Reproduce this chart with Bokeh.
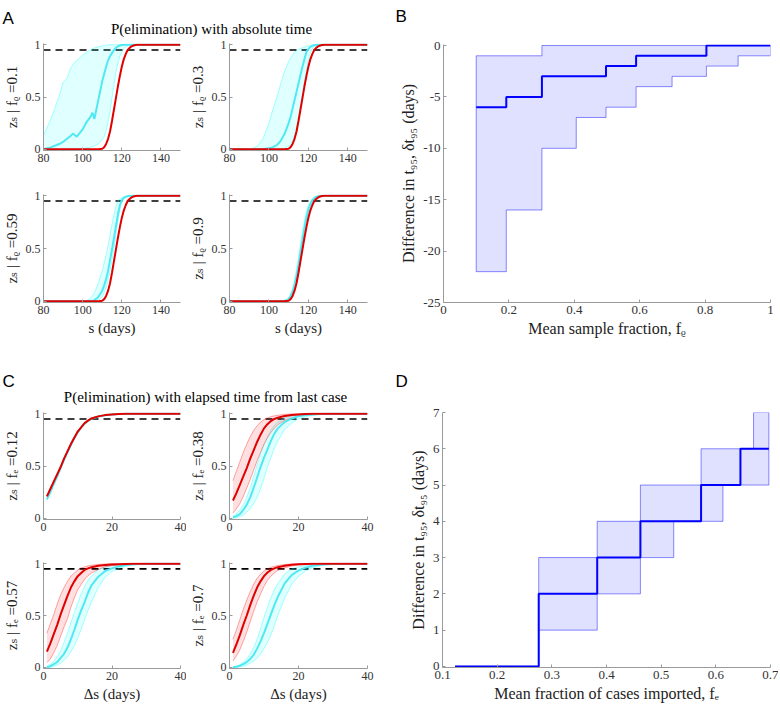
from bokeh.plotting import figure
from bokeh.layouts import column, row
from bokeh.models import Range1d, FixedTicker, CustomJSTickFormatter
from bokeh.core.properties import value
from bokeh.embed import file_html
from bokeh.resources import INLINE

SERIF = "Liberation Serif, DejaVu Serif, serif"
SANS = "Liberation Sans, Arial, sans-serif"

# ---------------- Panel A data: P(elimination) vs absolute time ----------------
s_days = [80, 84, 88, 90, 92, 94, 95, 97, 100, 102, 104, 105, 106, 108, 110, 111, 112, 113,
          114, 115, 116, 117, 118, 119, 120, 121, 122, 123, 124, 125, 126, 127, 128, 130, 140, 150]
a_true = [0, 0, 0, 0, 0, 0, 0, 0, 0, 0, 0, 0, 0, 0, 0.005, 0.02, 0.05, 0.10,
          0.17, 0.27, 0.38, 0.49, 0.60, 0.70, 0.79, 0.86, 0.91, 0.95, 0.97, 0.985, 0.993, 0.998, 1, 1, 1, 1]
a_frac = ["0.1", "0.3", "0.59", "0.9"]
a1_mean = [0, 0.02, 0.05, 0.07, 0.10, 0.13, 0.15, 0.12, 0.19, 0.26, 0.31, 0.35, 0.29, 0.47, 0.65, 0.72, 0.79, 0.85,
           0.89, 0.92, 0.95, 0.97, 0.985, 0.993, 0.998, 1, 1, 1, 1, 1, 1, 1, 1, 1, 1, 1]
a1_hi = [0.13, 0.30, 0.51, 0.64, 0.68, 0.78, 0.81, 0.85, 0.90, 0.93, 0.95, 0.96, 0.97, 0.98, 0.99, 0.993, 0.996, 0.998,
         1, 1, 1, 1, 1, 1, 1, 1, 1, 1, 1, 1, 1, 1, 1, 1, 1, 1]
a1_lo = [0, 0, 0, 0, 0, 0, 0, 0, 0, 0.01, 0.02, 0.025, 0.03, 0.05, 0.09, 0.12, 0.18, 0.26,
         0.36, 0.49, 0.61, 0.74, 0.82, 0.89, 0.93, 0.96, 0.98, 0.99, 1, 1, 1, 1, 1, 1, 1, 1]
a2_mean = [0, 0, 0, 0, 0, 0, 0, 0, 0.01, 0.02, 0.04, 0.06, 0.08, 0.15, 0.25, 0.31, 0.39, 0.47,
           0.55, 0.63, 0.71, 0.79, 0.86, 0.93, 0.96, 0.98, 0.99, 0.996, 1, 1, 1, 1, 1, 1, 1, 1]
a2_hi = [0, 0, 0, 0, 0.01, 0.03, 0.05, 0.10, 0.25, 0.38, 0.50, 0.56, 0.63, 0.75, 0.84, 0.87, 0.90, 0.93,
         0.945, 0.955, 0.965, 0.97, 0.978, 0.984, 0.99, 0.994, 0.997, 1, 1, 1, 1, 1, 1, 1, 1, 1]
a2_lo = [0, 0, 0, 0, 0, 0, 0, 0, 0, 0, 0, 0, 0, 0.01, 0.03, 0.05, 0.08, 0.13,
         0.20, 0.29, 0.40, 0.52, 0.65, 0.76, 0.85, 0.92, 0.96, 0.98, 0.99, 0.996, 1, 1, 1, 1, 1, 1]
a3_mean = [0, 0, 0, 0, 0, 0, 0, 0, 0, 0, 0, 0.003, 0.01, 0.04, 0.10, 0.15, 0.21, 0.29,
           0.39, 0.49, 0.60, 0.71, 0.82, 0.91, 0.96, 0.98, 0.99, 0.996, 1, 1, 1, 1, 1, 1, 1, 1]
a3_hi = [0, 0, 0, 0, 0, 0, 0, 0, 0, 0.005, 0.03, 0.05, 0.08, 0.17, 0.29, 0.36, 0.44, 0.53,
         0.63, 0.73, 0.82, 0.90, 0.95, 0.97, 0.98, 0.988, 0.994, 0.998, 1, 1, 1, 1, 1, 1, 1, 1]
a3_lo = [0, 0, 0, 0, 0, 0, 0, 0, 0, 0, 0, 0, 0, 0.005, 0.04, 0.08, 0.13, 0.20,
         0.29, 0.39, 0.50, 0.63, 0.76, 0.87, 0.94, 0.97, 0.985, 0.993, 0.997, 1, 1, 1, 1, 1, 1, 1]
a4_mean = [0, 0, 0, 0, 0, 0, 0, 0, 0, 0, 0, 0, 0, 0.003, 0.02, 0.05, 0.09, 0.15,
           0.24, 0.34, 0.46, 0.58, 0.69, 0.79, 0.87, 0.92, 0.955, 0.975, 0.988, 0.995, 0.998, 1, 1, 1, 1, 1]
a4_hi = [0, 0, 0, 0, 0, 0, 0, 0, 0, 0, 0, 0, 0, 0.005, 0.03, 0.07, 0.12, 0.20,
         0.30, 0.42, 0.54, 0.66, 0.76, 0.85, 0.91, 0.95, 0.975, 0.988, 0.995, 0.998, 1, 1, 1, 1, 1, 1]
a4_lo = [0, 0, 0, 0, 0, 0, 0, 0, 0, 0, 0, 0, 0, 0.001, 0.01, 0.03, 0.06, 0.11,
         0.18, 0.27, 0.38, 0.50, 0.62, 0.73, 0.82, 0.89, 0.935, 0.963, 0.98, 0.99, 0.996, 1, 1, 1, 1, 1]

# ---------------- Panel C data: P(elimination) vs elapsed time ----------------
ds_days = [1, 2, 3, 4, 5, 6, 7, 8, 9, 10, 11, 12, 13, 14, 16, 18, 20, 22, 24, 26, 28, 30, 35, 40]
c_frac = ["0.12", "0.38", "0.57", "0.7"]
c1_red = [0.21, 0.28, 0.35, 0.42, 0.49, 0.57, 0.64, 0.71, 0.77, 0.83, 0.87, 0.91, 0.935, 0.955, 0.975, 0.987, 0.994, 0.997, 1, 1, 1, 1, 1, 1]
c1_red_lo = [0.20, 0.27, 0.34, 0.41, 0.48, 0.56, 0.63, 0.70, 0.76, 0.82, 0.865, 0.905, 0.93, 0.95, 0.972, 0.985, 0.993, 0.997, 1, 1, 1, 1, 1, 1]
c1_red_hi = [0.22, 0.29, 0.36, 0.43, 0.50, 0.58, 0.65, 0.72, 0.78, 0.84, 0.875, 0.915, 0.94, 0.96, 0.978, 0.989, 0.995, 0.998, 1, 1, 1, 1, 1, 1]
c1_cyan = [0.18, 0.25, 0.33, 0.40, 0.48, 0.56, 0.63, 0.70, 0.77, 0.82, 0.87, 0.905, 0.932, 0.952, 0.974, 0.986, 0.993, 0.997, 1, 1, 1, 1, 1, 1]
c1_cyan_lo = [0.17, 0.24, 0.32, 0.39, 0.47, 0.55, 0.62, 0.69, 0.76, 0.81, 0.86, 0.90, 0.928, 0.948, 0.971, 0.984, 0.992, 0.996, 1, 1, 1, 1, 1, 1]
c1_cyan_hi = [0.19, 0.26, 0.34, 0.41, 0.49, 0.57, 0.64, 0.71, 0.78, 0.83, 0.875, 0.91, 0.936, 0.956, 0.977, 0.988, 0.994, 0.998, 1, 1, 1, 1, 1, 1]
c2_red = [0.17, 0.24, 0.32, 0.40, 0.48, 0.57, 0.65, 0.73, 0.80, 0.86, 0.90, 0.93, 0.95, 0.963, 0.978, 0.988, 0.994, 0.997, 1, 1, 1, 1, 1, 1]
c2_red_hi = [0.36, 0.45, 0.54, 0.63, 0.71, 0.78, 0.84, 0.885, 0.92, 0.945, 0.96, 0.972, 0.98, 0.986, 0.994, 0.998, 1, 1, 1, 1, 1, 1, 1, 1]
c2_red_lo = [0.05, 0.09, 0.14, 0.21, 0.29, 0.37, 0.46, 0.55, 0.63, 0.71, 0.77, 0.82, 0.86, 0.895, 0.935, 0.96, 0.977, 0.987, 0.993, 0.997, 1, 1, 1, 1]
c2_cyan = [0.01, 0.02, 0.04, 0.08, 0.13, 0.20, 0.29, 0.39, 0.49, 0.58, 0.66, 0.74, 0.81, 0.86, 0.92, 0.955, 0.975, 0.988, 0.994, 0.997, 1, 1, 1, 1]
c2_cyan_hi = [0.02, 0.04, 0.08, 0.13, 0.20, 0.29, 0.40, 0.51, 0.61, 0.70, 0.78, 0.84, 0.89, 0.92, 0.96, 0.98, 0.99, 0.996, 1, 1, 1, 1, 1, 1]
c2_cyan_lo = [0, 0.005, 0.015, 0.03, 0.06, 0.09, 0.14, 0.20, 0.28, 0.38, 0.49, 0.58, 0.67, 0.74, 0.85, 0.91, 0.95, 0.972, 0.985, 0.992, 0.996, 1, 1, 1]
c3_red = [0.15, 0.23, 0.32, 0.41, 0.51, 0.60, 0.69, 0.77, 0.83, 0.88, 0.91, 0.94, 0.955, 0.966, 0.98, 0.988, 0.993, 0.996, 0.998, 1, 1, 1, 1, 1]
c3_red_hi = [0.33, 0.42, 0.51, 0.61, 0.70, 0.77, 0.83, 0.88, 0.91, 0.94, 0.96, 0.97, 0.98, 0.985, 0.993, 0.997, 1, 1, 1, 1, 1, 1, 1, 1]
c3_red_lo = [0.045, 0.08, 0.14, 0.21, 0.30, 0.39, 0.47, 0.58, 0.67, 0.75, 0.80, 0.85, 0.885, 0.91, 0.945, 0.97, 0.982, 0.99, 0.995, 0.998, 1, 1, 1, 1]
c3_cyan = [0, 0.01, 0.03, 0.05, 0.09, 0.13, 0.19, 0.27, 0.36, 0.46, 0.55, 0.63, 0.72, 0.79, 0.875, 0.93, 0.955, 0.975, 0.988, 0.994, 0.997, 1, 1, 1]
c3_cyan_hi = [0.01, 0.03, 0.06, 0.10, 0.16, 0.24, 0.33, 0.43, 0.53, 0.62, 0.71, 0.78, 0.84, 0.88, 0.94, 0.97, 0.985, 0.993, 0.997, 1, 1, 1, 1, 1]
c3_cyan_lo = [0, 0, 0.01, 0.02, 0.04, 0.07, 0.10, 0.15, 0.21, 0.28, 0.37, 0.46, 0.55, 0.63, 0.77, 0.87, 0.925, 0.955, 0.975, 0.987, 0.993, 0.997, 1, 1]
c4_red = [0.14, 0.22, 0.31, 0.41, 0.50, 0.60, 0.69, 0.77, 0.83, 0.88, 0.915, 0.94, 0.955, 0.967, 0.98, 0.99, 0.995, 0.998, 1, 1, 1, 1, 1, 1]
c4_red_hi = [0.27, 0.36, 0.46, 0.56, 0.65, 0.73, 0.80, 0.86, 0.90, 0.93, 0.95, 0.965, 0.975, 0.983, 0.992, 0.997, 1, 1, 1, 1, 1, 1, 1, 1]
c4_red_lo = [0.06, 0.11, 0.17, 0.25, 0.34, 0.44, 0.54, 0.63, 0.71, 0.78, 0.84, 0.88, 0.91, 0.935, 0.96, 0.978, 0.988, 0.994, 0.997, 1, 1, 1, 1, 1]
c4_cyan = [0, 0.005, 0.015, 0.03, 0.05, 0.08, 0.12, 0.18, 0.25, 0.33, 0.42, 0.51, 0.60, 0.68, 0.81, 0.89, 0.935, 0.962, 0.98, 0.99, 0.995, 0.998, 1, 1]
c4_cyan_hi = [0, 0.01, 0.025, 0.05, 0.08, 0.13, 0.19, 0.27, 0.37, 0.48, 0.58, 0.67, 0.75, 0.81, 0.90, 0.95, 0.97, 0.985, 0.993, 0.997, 1, 1, 1, 1]
c4_cyan_lo = [0, 0, 0.005, 0.01, 0.02, 0.04, 0.06, 0.09, 0.13, 0.18, 0.24, 0.31, 0.40, 0.50, 0.67, 0.80, 0.88, 0.93, 0.96, 0.978, 0.988, 0.994, 1, 1]

threshold = 0.95

# ---------------- Panel B data ----------------
b_frac = [0.1, 0.192, 0.301, 0.406, 0.497, 0.589, 0.699, 0.804, 0.901, 1.0]
b_mean = [-6, -5, -3, -3, -2, -1, -1, 0, 0, 0]
b_hi = [-1, -1, 0, 0, 0, 0, 0, 0, 0, 0]
b_lo = [-22, -16, -10, -7, -6, -4, -3, -2, -1, -1]

# ---------------- Panel D data ----------------
d_frac = [0.123, 0.276, 0.383, 0.462, 0.523, 0.573, 0.613, 0.645, 0.669, 0.697]
d_mean = [0, 2, 3, 4, 4, 5, 5, 6, 6, 6]
d_hi = [0, 3, 4, 5, 5, 6, 6, 6, 7, 7]
d_lo = [0, 1, 2, 3, 4, 4, 5, 5, 5, 5]

# tick definitions
a_xticks, a_xlabels = [80, 100, 120, 140], ["80", "100", "120", "140"]
c_xticks, c_xlabels = [0, 20, 40], ["0", "20", "40"]
p_yticks, p_ylabels = [0, 0.5, 1], ["0", "0.5", "1"]
b_xticks, b_xlabels = [0, 0.2, 0.4, 0.6, 0.8, 1], ["0", "0.2", "0.4", "0.6", "0.8", "1"]
b_yticks, b_ylabels = [-25, -20, -15, -10, -5, 0], ["-25", "-20", "-15", "-10", "-5", "0"]
d_xticks, d_xlabels = [0.1, 0.2, 0.3, 0.4, 0.5, 0.6, 0.7], ["0.1", "0.2", "0.3", "0.4", "0.5", "0.6", "0.7"]
d_yticks, d_ylabels = [0, 1, 2, 3, 4, 5, 6, 7], ["0", "1", "2", "3", "4", "5", "6", "7"]

RED = "#e00000"
CYAN = "#4fe9f4"
BLUE = "#0000ff"
AXC = "#9a9a9a"
TXT = "#333333"


def fmt(ticks, labels):
    return CustomJSTickFormatter(args=dict(vals=ticks, labs=labels), code="""
        for (let i = 0; i < vals.length; i++) { if (Math.abs(vals[i] - tick) < 1e-9) return labs[i]; }
        return '';""")


def make_ax(w, h, xr, yr, mb, xt, yt, xlab, ylab, tick_size, lab_size):
    p = figure(width=w, height=h, x_range=Range1d(*xr), y_range=Range1d(*yr),
               toolbar_location=None, tools="", output_backend="svg",
               min_border_left=mb[0], min_border_right=mb[1], min_border_top=mb[2], min_border_bottom=mb[3])
    p.outline_line_color = None
    p.xgrid.visible = False
    p.ygrid.visible = False
    for ax, (ticks, labels), lab in ((p.xaxis[0], xt, xlab), (p.yaxis[0], yt, ylab)):
        ax.ticker = FixedTicker(ticks=ticks)
        ax.formatter = fmt(ticks, labels)
        ax.axis_line_color = AXC
        ax.major_tick_line_color = AXC
        ax.major_tick_in = 3
        ax.major_tick_out = 0
        ax.minor_tick_line_color = None
        ax.major_label_text_font = SERIF
        ax.major_label_text_font_size = tick_size
        ax.major_label_text_color = TXT
        ax.major_label_standoff = 3
        ax.axis_label = lab
        ax.axis_label_text_font = SERIF
        ax.axis_label_text_font_size = lab_size
        ax.axis_label_text_font_style = "normal"
        ax.axis_label_text_color = "#222222"
        ax.axis_label_standoff = 3
    return p


def band(p, x, lo, hi, color, alpha=0.12):
    p.varea(x=x, y1=lo, y2=hi, fill_color=color, fill_alpha=alpha)
    p.line(x, lo, line_color=color, line_alpha=0.35, line_width=1)
    p.line(x, hi, line_color=color, line_alpha=0.35, line_width=1)


def step_polygon(x, lo, hi):
    ux, uy, lx, ly = [], [], [], []
    n = len(x)
    for i in range(n):
        x1 = x[i + 1] if i + 1 < n else x[i]
        ux += [x[i], x1]
        uy += [hi[i], hi[i]]
        lx += [x[i], x1]
        ly += [lo[i], lo[i]]
    return ux + lx[::-1], uy + ly[::-1]


PROB_RANGE = (-0.012, 1.012)

# ---------------- build panel A ----------------
a_sets = [(a1_mean, a1_lo, a1_hi), (a2_mean, a2_lo, a2_hi), (a3_mean, a3_lo, a3_hi), (a4_mean, a4_lo, a4_hi)]
a_geo = [(186, 148, (40, 6, 5, 36)), (206, 148, (40, 25, 5, 36)),
         (186, 154, (40, 6, 8, 38)), (206, 154, (40, 25, 8, 38))]
a_figs = []
for k, ((m, lo, hi), (w, h, mb)) in enumerate(zip(a_sets, a_geo)):
    xlab = "s (days)" if k >= 2 else ""
    p = make_ax(w, h, (80, 150), PROB_RANGE, mb, (a_xticks, a_xlabels), (p_yticks, p_ylabels),
                xlab, "zₛ | fᵨ =" + a_frac[k], "12px", "15px")
    p.line([s_days[0], s_days[-1]], [threshold, threshold], line_color="black", line_width=1.6, line_dash="7 5")
    band(p, s_days, lo, hi, "#00ffff")
    p.line(s_days, m, line_color=CYAN, line_width=2)
    p.line(s_days, a_true, line_color=RED, line_width=2)
    a_figs.append(p)

# ---------------- build panel C ----------------
c_sets = [(c1_red, c1_red_lo, c1_red_hi, c1_cyan, c1_cyan_lo, c1_cyan_hi),
          (c2_red, c2_red_lo, c2_red_hi, c2_cyan, c2_cyan_lo, c2_cyan_hi),
          (c3_red, c3_red_lo, c3_red_hi, c3_cyan, c3_cyan_lo, c3_cyan_hi),
          (c4_red, c4_red_lo, c4_red_hi, c4_cyan, c4_cyan_lo, c4_cyan_hi)]
c_geo = [(186, 149, (40, 6, 6, 36)), (206, 149, (40, 25, 6, 36)),
         (186, 149, (40, 6, 7, 34)), (206, 149, (40, 25, 7, 34))]
c_figs = []
for k, ((rm, rlo, rhi, cm, clo, chi), (w, h, mb)) in enumerate(zip(c_sets, c_geo)):
    xlab = "Δs (days)" if k >= 2 else ""
    p = make_ax(w, h, (0, 40), PROB_RANGE, mb, (c_xticks, c_xlabels), (p_yticks, p_ylabels),
                xlab, "zₛ | fₑ =" + c_frac[k], "12px", "15px")
    p.line([0, 40], [threshold, threshold], line_color="black", line_width=1.6, line_dash="7 5")
    band(p, ds_days, clo, chi, "#00ffff")
    band(p, ds_days, rlo, rhi, "#ff0000", 0.12)
    p.line(ds_days, cm, line_color=CYAN, line_width=2)
    p.line(ds_days, rm, line_color=RED, line_width=2)
    c_figs.append(p)

# ---------------- panel B ----------------
pb = make_ax(386, 303, (0, 1), (-25, 0.1), (51, 8, 6, 39), (b_xticks, b_xlabels), (b_yticks, b_ylabels),
             "Mean sample fraction, fᵨ", "Difference in t₉₅, δt₉₅ (days)", "13px", "16px")
bx, by = step_polygon(b_frac, b_lo, b_hi)
pb.patch(bx, by, fill_color=BLUE, fill_alpha=0.12, line_color=BLUE, line_alpha=0.45, line_width=1)
pb.step(b_frac, b_mean, mode="after", line_color=BLUE, line_width=2)

# ---------------- panel D ----------------
pd_ = make_ax(386, 298, (0.1, 0.7), (-0.03, 7), (50, 8, 6, 35), (d_xticks, d_xlabels), (d_yticks, d_ylabels),
              "Mean fraction of cases imported, fₑ", "Difference in t₉₅, δt₉₅ (days)", "13px", "16px")
dx, dy = step_polygon(d_frac, d_lo, d_hi)
pd_.patch(dx, dy, fill_color=BLUE, fill_alpha=0.12, line_color=BLUE, line_alpha=0.45, line_width=1)
pd_.step(d_frac, d_mean, mode="after", line_color=BLUE, line_width=2)


# ---------------- headers (panel letters and titles) ----------------
def header(h, items):
    p = figure(width=778, height=h, x_range=Range1d(0, 778), y_range=Range1d(h, 0),
               toolbar_location=None, tools="", output_backend="svg",
               x_axis_location=None, y_axis_location=None, min_border=0)
    p.outline_line_color = None
    p.grid.visible = False
    for (x, y, t, font, size, align, base) in items:
        p.text(x=[x], y=[y], text=[t], text_font=value(font), text_font_size=size,
               text_align=align, text_baseline=base, text_color="black")
    return p


h_top = header(38, [(2, 18, "A", SANS, "17px", "left", "alphabetic"),
                    (395, 16, "B", SANS, "17px", "left", "alphabetic"),
                    (211, 28, "P(elimination) with absolute time", SERIF, "15px", "center", "middle")])
h_bot = header(65, [(2, 40, "C", SANS, "17px", "left", "alphabetic"),
                    (395, 40, "D", SANS, "17px", "left", "alphabetic"),
                    (205, 55, "P(elimination) with elapsed time from last case", SERIF, "15px", "center", "middle")])

left_top = column(row(a_figs[0], a_figs[1]), row(a_figs[2], a_figs[3]))
left_bot = column(row(c_figs[0], c_figs[1]), row(c_figs[2], c_figs[3]))
layout = column(h_top, row(left_top, pb), h_bot, row(left_bot, pd_))

open("out.html", "w").write(file_html(layout, INLINE))
